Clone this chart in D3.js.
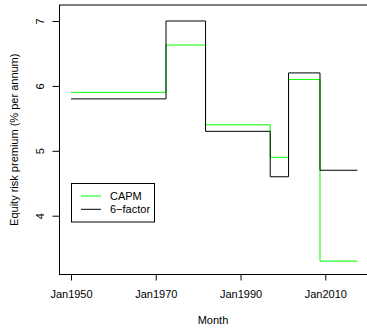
<!DOCTYPE html>
<html>
<head>
<meta charset="utf-8">
<script src="https://cdn.jsdelivr.net/npm/d3@7"></script>
<style>
  body { margin: 0; background: #fff; }
  text { font-family: "Liberation Sans", Arial, sans-serif; }
</style>
</head>
<body>
<div id="chart"></div>
<script>
// step boundaries (month) and premium levels for each segment
const breaks = ["1950-01", "1972-06", "1981-10", "1997-01", "2001-05", "2008-10", "2017-08"];
const capm = [5.9, 6.63, 5.4, 4.9, 6.1, 3.3];
const sixFactor = [5.8, 7.0, 5.3, 4.6, 6.2, 4.7];
const xTicks = ["1950-01", "1970-01", "1990-01", "2010-01"];
const yTicks = [4, 5, 6, 7];
const series = [
    { name: "CAPM", values: capm, color: "#00ff00" },
    { name: "6\u2212factor", values: sixFactor, color: "#000" }
];

const width = 367;
const height = 331;
const parse = d3.timeParse("%Y-%m");

// Declare scales, anchored on the tick positions
const x = d3.scaleTime()
    .domain([parse("1950-01"), parse("2010-01")])
    .range([71, 325.3]);
const y = d3.scaleLinear()
    .domain([4, 7])
    .range([215.7, 21]);

const boxLeft = 59.5, boxTop = 5, boxBottom = 274.5, boxRight = width + 2;

const svg = d3.select("#chart")
    .append("svg")
    .attr("width", width)
    .attr("height", height)
    .attr("viewBox", [0, 0, width, height]);

// build the step path for each series
const stepLine = d3.line()
    .x(d => x(d[0]))
    .y(d => y(d[1]))
    .curve(d3.curveStepAfter);

series.forEach(s => {
    const pts = s.values.map((v, i) => [parse(breaks[i]), v]);
    pts.push([parse(breaks[breaks.length - 1]), s.values[s.values.length - 1]]);
    svg.append("path")
        .attr("d", stepLine(pts))
        .attr("fill", "none")
        .attr("stroke", s.color)
        .attr("stroke-width", 1);
});

// plot box
svg.append("rect")
    .attr("x", boxLeft)
    .attr("y", boxTop)
    .attr("width", boxRight - boxLeft)
    .attr("height", boxBottom - boxTop)
    .attr("fill", "none")
    .attr("stroke", "#000")
    .attr("stroke-width", 1);

// x axis
const xAxis = svg.append("g")
    .attr("transform", `translate(0,${boxBottom})`)
    .call(d3.axisBottom(x)
        .tickValues(xTicks.map(parse))
        .tickFormat(d3.timeFormat("%b%Y"))
        .tickSize(6)
        .tickPadding(10));
xAxis.select(".domain").remove();
xAxis.selectAll("text")
    .style("font-size", "11px")
    .attr("fill", "#000");

// y axis with rotated labels
const yAxis = svg.append("g")
    .attr("transform", `translate(${boxLeft},0)`)
    .call(d3.axisLeft(y)
        .tickValues(yTicks)
        .tickFormat(d3.format("d"))
        .tickSize(7));
yAxis.select(".domain").remove();
yAxis.selectAll("text")
    .attr("x", null)
    .attr("dy", null)
    .attr("text-anchor", "middle")
    .attr("transform", "translate(-16,0) rotate(-90)")
    .style("font-size", "11px")
    .attr("fill", "#000");

// axis titles
svg.append("text")
    .attr("x", 213)
    .attr("y", 324)
    .attr("text-anchor", "middle")
    .style("font-size", "11px")
    .text("Month");

svg.append("text")
    .attr("transform", `translate(18,${(boxTop + boxBottom) / 2}) rotate(-90)`)
    .attr("text-anchor", "middle")
    .style("font-size", "11px")
    .text("Equity risk premium (% per annum)");

// legend
const legend = svg.append("g");
legend.append("rect")
    .attr("x", 71.5)
    .attr("y", 183.5)
    .attr("width", 83)
    .attr("height", 38.5)
    .attr("fill", "#fff")
    .attr("stroke", "#000");
series.forEach((s, i) => {
    const ly = 196 + i * 13.3;
    legend.append("line")
        .attr("x1", 81).attr("x2", 101)
        .attr("y1", ly).attr("y2", ly)
        .attr("stroke", s.color);
    legend.append("text")
        .attr("x", 110)
        .attr("y", ly)
        .attr("dy", "0.35em")
        .style("font-size", "11px")
        .text(s.name);
});
</script>
</body>
</html>
